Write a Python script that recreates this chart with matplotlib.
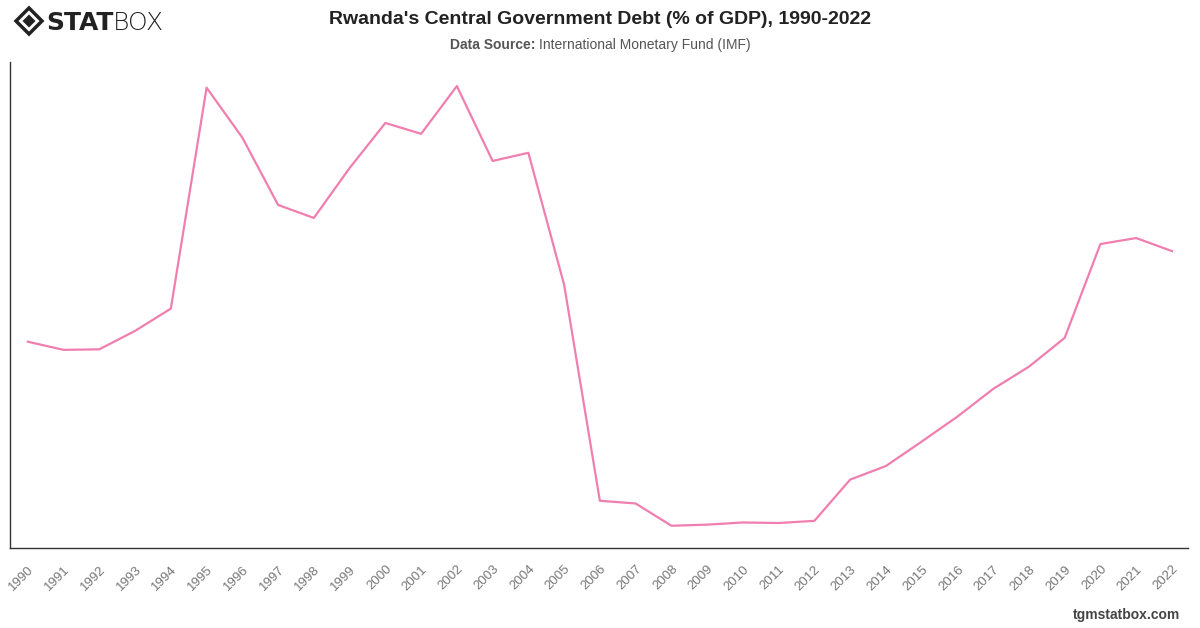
import numpy as np
import matplotlib.pyplot as plt
from matplotlib.patches import Polygon

plt.rcParams['font.family'] = ['Liberation Sans', 'DejaVu Sans']

years = list(range(1990, 2023))
debt = [53.9, 52.4, 52.5, 55.9, 60.0, 100.7, 91.5, 79.1, 76.7, 85.9,
        94.2, 92.2, 101.0, 87.2, 88.7, 64.4, 24.6, 24.1, 20.0, 20.2,
        20.6, 20.5, 20.9, 28.5, 31.0, 35.5, 40.1, 45.2, 49.3, 54.6,
        71.9, 73.0, 70.6]

fig = plt.figure(figsize=(12, 6.28), dpi=100)
ax = fig.add_axes([0.0083, 0.1274, 0.9817, 0.7736])

ax.plot(years, debt, color='#f07fb0', lw=1.6)
ax.set_xlim(1989.5, 2022.45)
ax.set_ylim(15.9, 105.4)

ax.set_xticks(years)
ax.set_xticklabels([str(y) for y in years], rotation=45, ha='right',
                   rotation_mode='anchor', fontsize=9.5, color='#777777')
ax.tick_params(axis='x', length=0, pad=11)
ax.set_yticks([])
for s in ['top', 'right']:
    ax.spines[s].set_visible(False)
for s in ['left', 'bottom']:
    ax.spines[s].set_color('#333333')
    ax.spines[s].set_linewidth(1.0)

# titles
fig.text(0.5, 1 - 20/628, "Rwanda's Central Government Debt (% of GDP), 1990-2022",
         ha='center', va='center', fontsize=14, fontweight='bold', color='#222222')
t1 = fig.text(0.5, 1 - 45/628, "Data Source: ", ha='right', va='center',
              fontsize=10, fontweight='bold', color='#555555')
fig.canvas.draw()
r = fig.canvas.get_renderer()
w1 = t1.get_window_extent(r).width
t2 = fig.text(0.5, 1 - 45/628, "International Monetary Fund (IMF)", ha='left', va='center',
              fontsize=10, color='#555555')
w2 = t2.get_window_extent(r).width
shift = (w1 - w2) / 2 / 1200
t1.set_x(0.5 + shift)
t2.set_x(0.5 + shift)

fig.text(1 - 20/1200, 1 - 615/628, "tgmstatbox.com", ha='right', va='center',
         fontsize=10, fontweight='bold', color='#444444')

# logo
cx, cy = 29/1200, 1 - 21/628
dx, dy = 13/1200, 13/628
fig.patches.append(Polygon([[cx - dx, cy], [cx, cy + dy], [cx + dx, cy], [cx, cy - dy]],
                           closed=True, transform=fig.transFigure, facecolor='none',
                           edgecolor='#222222', lw=2.5))
fig.patches.append(Polygon([[cx - dx*0.5, cy], [cx, cy + dy*0.5], [cx + dx*0.5, cy], [cx, cy - dy*0.5]],
                           closed=True, transform=fig.transFigure, facecolor='#222222',
                           edgecolor='none'))
ty = 1 - 23/628
ls = fig.text(46/1200, ty, "STAT", ha='left', va='center', fontsize=18,
              fontweight='heavy', color='#222222', family='DejaVu Sans')
fig.canvas.draw()
bb = ls.get_window_extent(r)
fig.text(bb.x1/1200, ty, "BOX", ha='left', va='center', fontsize=18,
         fontweight='light', color='#222222', family='DejaVu Sans')

fig.savefig('out.png', dpi=100)
